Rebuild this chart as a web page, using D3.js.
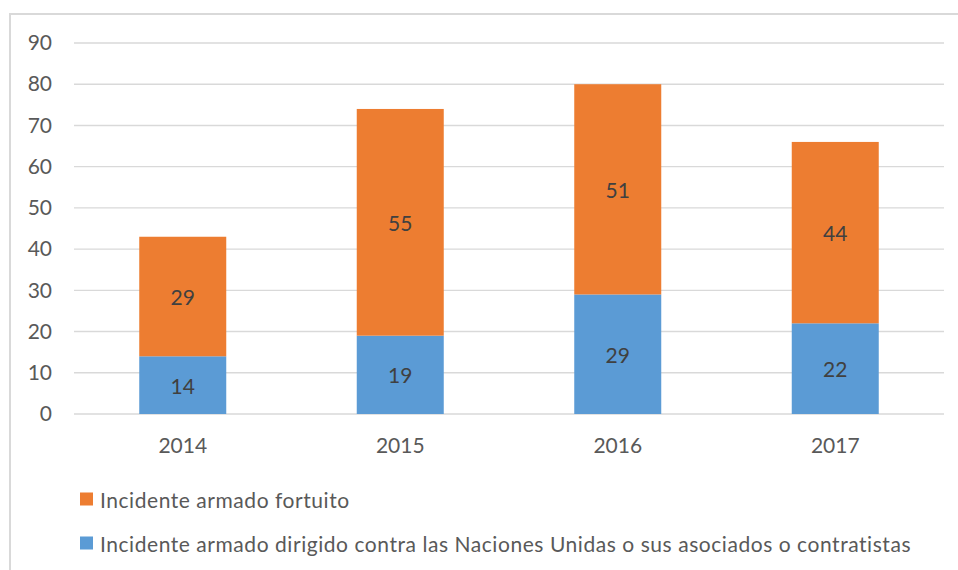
<!DOCTYPE html>
<html>
<head>
<meta charset="utf-8">
<script src="https://cdn.jsdelivr.net/npm/d3@7"></script>
<style>
  html, body { margin: 0; padding: 0; background: #fff; }
  svg { display: block; }
  text { font-family: Lato, "Open Sans", sans-serif; fill: #595959; }
</style>
</head>
<body>
<svg id="chart" width="958" height="570"></svg>
<script>
const categories = ["2014", "2015", "2016", "2017"];
const seriesNames = [
  "Incidente armado dirigido contra las Naciones Unidas o sus asociados o contratistas",
  "Incidente armado fortuito"
];
const dirigido = [14, 19, 29, 22];
const fortuito = [29, 55, 51, 44];
const yTicks = [0, 10, 20, 30, 40, 50, 60, 70, 80, 90];
const colors = ["#5B9BD5", "#ED7D31"];

const FS = 21;
const svg = d3.select("#chart");

// outer chart border
svg.append("rect")
  .attr("x", 10).attr("y", 14).attr("width", 960).attr("height", 570)
  .attr("fill", "none").attr("stroke", "#D9D9D9").attr("stroke-width", 2);

const x = d3.scaleBand().domain(categories).range([74, 944])
  .paddingInner(0.6).paddingOuter(0.3);
const y = d3.scaleLinear().domain([0, 90]).range([414, 43]);

// gridlines
svg.append("g").selectAll("line").data(yTicks).join("line")
  .attr("x1", 74).attr("x2", 944)
  .attr("y1", d => y(d)).attr("y2", d => y(d))
  .attr("stroke", "#D9D9D9").attr("stroke-width", 1.4);

// y axis labels
const yAxis = d3.axisLeft(y).tickValues(yTicks).tickSize(0).tickPadding(0);
const gy = svg.append("g").attr("transform", "translate(52,0)").call(yAxis);
gy.select(".domain").remove();
gy.selectAll("text").attr("font-size", FS).attr("font-family", "Lato").attr("fill", "#595959");

// x axis labels
const xAxis = d3.axisBottom(x).tickSize(0).tickPadding(0);
const gx = svg.append("g").attr("transform", "translate(0,438)").call(xAxis);
gx.select(".domain").remove();
gx.selectAll("text").attr("font-size", FS).attr("font-family", "Lato").attr("fill", "#595959");

// stacked data
const rows = categories.map((c, i) => ({ year: c, dirigido: dirigido[i], fortuito: fortuito[i] }));
const stack = d3.stack().keys(["dirigido", "fortuito"]);
const layers = stack(rows);

const g = svg.append("g");
layers.forEach((layer, li) => {
  g.append("g").selectAll("rect").data(layer).join("rect")
    .attr("x", d => x(d.data.year))
    .attr("width", x.bandwidth())
    .attr("y", d => y(d[1]))
    .attr("height", d => y(d[0]) - y(d[1]))
    .attr("fill", colors[li]);
  g.append("g").selectAll("text").data(layer).join("text")
    .attr("x", d => x(d.data.year) + x.bandwidth() / 2)
    .attr("y", d => (y(d[0]) + y(d[1])) / 2)
    .attr("text-anchor", "middle")
    .attr("dominant-baseline", "central")
    .attr("font-size", FS)
    .style("fill", "#404040")
    .text(d => d[1] - d[0]);
});

// legend (orange first, then blue)
const legendItems = [
  { name: seriesNames[1], color: colors[1], y: 499 },
  { name: seriesNames[0], color: colors[0], y: 543 }
];
const lg = svg.append("g");
legendItems.forEach(it => {
  lg.append("rect").attr("x", 80).attr("y", it.y - 6.5).attr("width", 13).attr("height", 13)
    .attr("fill", it.color);
  lg.append("text").attr("x", 100).attr("y", it.y)
    .attr("dominant-baseline", "central")
    .attr("font-size", FS)
    .attr("letter-spacing", 0.55)
    .text(it.name);
});
</script>
</body>
</html>
